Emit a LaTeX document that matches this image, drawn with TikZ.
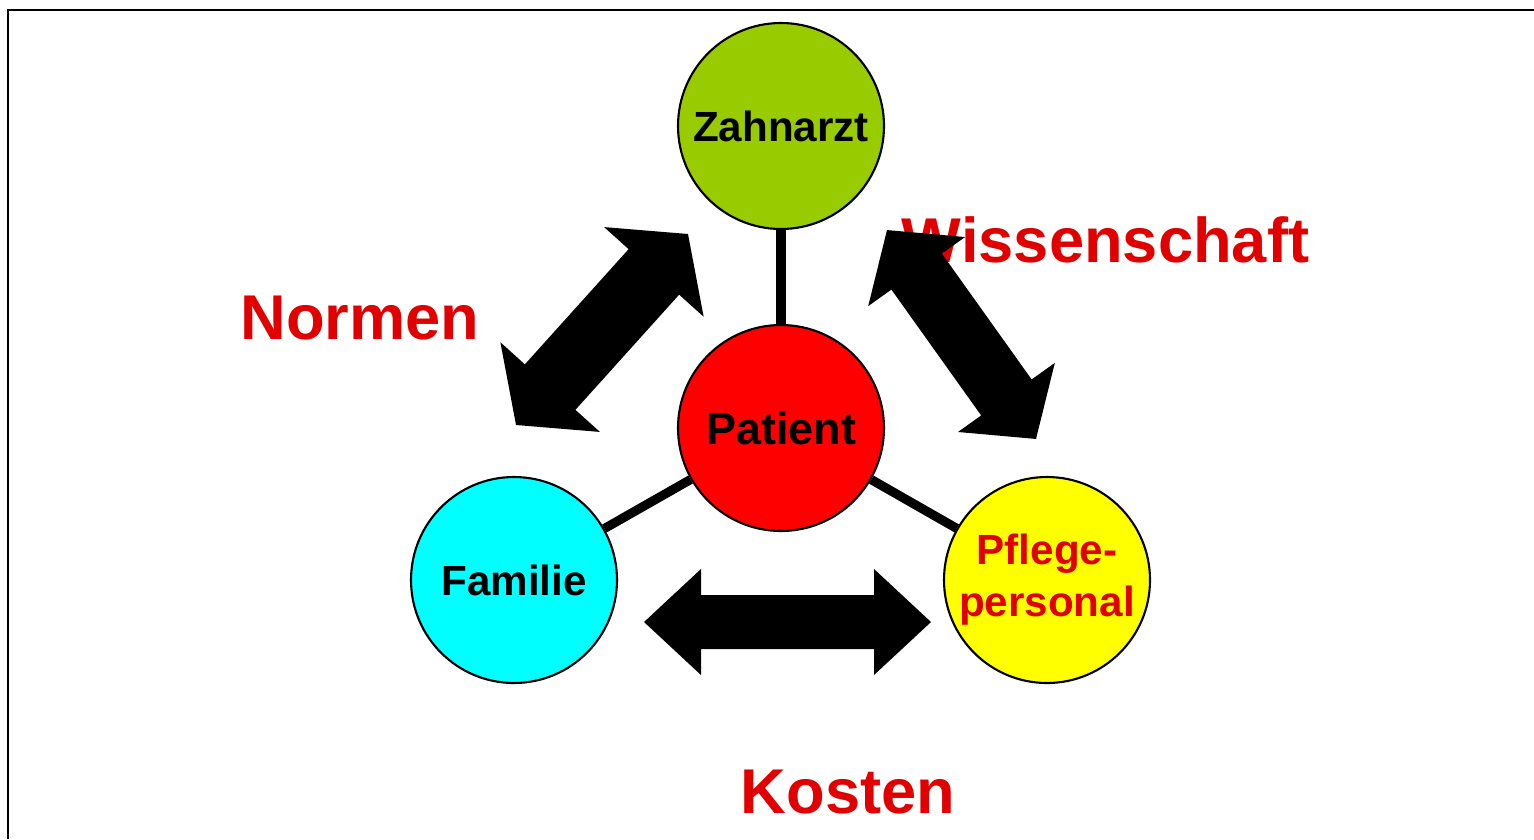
\documentclass[tikz,border=0pt]{standalone}
\usepackage{fontspec}
\setmainfont{Liberation Sans}
\usetikzlibrary{positioning}

\definecolor{zahngreen}{RGB}{153,204,0}
\definecolor{patientred}{RGB}{255,0,0}
\definecolor{familycyan}{RGB}{0,255,255}
\definecolor{pflegeyellow}{RGB}{255,255,0}
\definecolor{textred}{RGB}{224,0,0}

\begin{document}
\begin{tikzpicture}

	\tikzstyle{person}=[circle,draw=black,line width=0.6pt,
		minimum size=2.06cm,inner sep=0pt,
		font=\fontsize{12}{14.8}\selectfont\bfseries,
		align=center]
	\tikzstyle{topic}=[text=textred,inner sep=0pt,anchor=base,
		font=\fontsize{18}{22}\selectfont\bfseries]
	\tikzstyle{link}=[draw=black,line width=2.6pt]
	\tikzstyle{bigarrow}=[fill=black]

	\useasboundingbox (0,0) rectangle (15.34,8.39);
	\draw[line width=0.8pt] (0.08,0) |- (15.34,8.29);

	\node[person,fill=patientred,font=\fontsize{12.8}{15}\selectfont\bfseries]	at (7.81,4.11)	(patient)	{Patient};
	\node[person,fill=zahngreen,node distance=3.02cm,above of=patient]	(zahnarzt)	{Zahnarzt};
	\node[person,fill=familycyan,node distance=1.52cm,below of=patient,xshift=-2.67cm]	(familie)	{Familie};
	\node[person,fill=pflegeyellow,text=textred,node distance=1.52cm,below of=patient,xshift=2.66cm]	(pflege)	{Pflege-\\personal};

	\draw[link] (zahnarzt) -- (patient);
	\draw[link] (patient) -- (familie);
	\draw[link] (patient) -- (pflege);

	\node[topic] at (3.60,5.00)	(normen)	{Normen};
	\node[topic] at (11.055,5.77)	(wissenschaft)	{Wissenschaft};
	\node[topic] at (8.48,0.26)	(kosten)	{Kosten};

	\fill[bigarrow,shift={(6.02,5.095)},rotate=48]
		(-1.285,0) -- (-0.775,0.67) -- (-0.775,0.34) -- (0.775,0.34) -- (0.775,0.67)
		-- (1.285,0) -- (0.775,-0.67) -- (0.775,-0.34) -- (-0.775,-0.34) -- (-0.775,-0.67) -- cycle;
	\fill[bigarrow,shift={(9.615,5.045)},rotate=-54.5]
		(-1.283,0) -- (-0.773,0.595) -- (-0.773,0.31) -- (0.773,0.31) -- (0.773,0.595)
		-- (1.283,0) -- (0.773,-0.595) -- (0.773,-0.31) -- (-0.773,-0.31) -- (-0.773,-0.595) -- cycle;
	\fill[bigarrow,shift={(7.875,2.17)}]
		(-1.435,0) -- (-0.865,0.53) -- (-0.865,0.27) -- (0.865,0.27) -- (0.865,0.53)
		-- (1.435,0) -- (0.865,-0.53) -- (0.865,-0.27) -- (-0.865,-0.27) -- (-0.865,-0.53) -- cycle;

\end{tikzpicture}
\end{document}
